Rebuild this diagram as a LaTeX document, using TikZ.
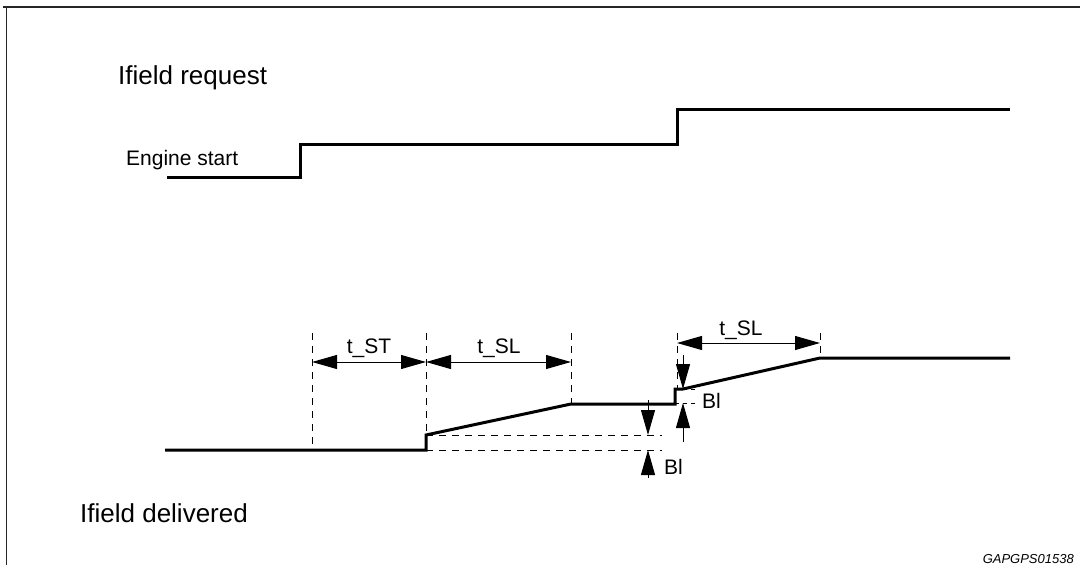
\documentclass[tikz,border=0pt]{standalone}
\usepackage{fontspec}
\setmainfont{Liberation Sans}
\usetikzlibrary{arrows.meta}
\tikzset{
  wave/.style={line width=3pt, line join=miter},
  guide/.style={line width=1pt, dash pattern=on 7pt off 6pt},
  dimarrow/.style={line width=1pt, {Triangle[length=25pt,width=14pt]}-{Triangle[length=25pt,width=14pt]}},
  pinarrow/.style={line width=1pt, -{Triangle[length=25pt,width=14pt]}},
  frameline/.style={draw=black!85},
  biglabel/.style={font=\fontsize{26}{30}\selectfont, inner sep=0pt},
  smalllabel/.style={font=\fontsize{21}{24}\selectfont, inner sep=0pt},
  reflabel/.style={font=\fontsize{13}{15}\selectfont\itshape, inner sep=0pt}
}
\begin{document}
\begin{tikzpicture}[x=1pt,y=-1pt]
\useasboundingbox (0,0) rectangle (1080,565);
\fill[white] (0,0) rectangle (1080,565);
% frame
\coordinate (ftl) at (6.5,7);
\coordinate (ftr) at (1080,7);
\coordinate (fbl) at (6.5,565);
\draw[frameline, line width=2.6pt] (3,7) -- (ftr);
\draw[frameline, line width=1.8pt] (ftl) -- (fbl);

% labels
\node[biglabel, anchor=base west] (req) at (118,84) {Ifield request};
\node[smalllabel, anchor=base west] (eng) at (126,165) {Engine start};
\node[biglabel, anchor=base west] (del) at (80,522) {Ifield delivered};
\node[reflabel, anchor=base east] (ref) at (1074,563) {GAPGPS01538};

% upper waveform
\coordinate (u0) at (167,177);
\coordinate (u1) at (300,177);
\coordinate (u2) at (300,144);
\coordinate (u3) at (677,144);
\coordinate (u4) at (677,109);
\coordinate (u5) at (1010,109);
\draw[wave] (u0) -- (u1) -- (u2) -- (u3) -- (u4) -- (u5);

% lower waveform
\coordinate (l0) at (165,450);
\coordinate (l1) at (426,450);
\coordinate (l2) at (426,435);
\coordinate (l3) at (571,404);
\coordinate (l4) at (675,404);
\coordinate (l5) at (675,389);
\coordinate (l6) at (683,389);
\coordinate (l7) at (820,358);
\coordinate (l8) at (1010,358);

% dashed guides
\coordinate (g1t) at (312,333);
\coordinate (g1b) at (312,450);
\coordinate (g2t) at (426,333);
\coordinate (g3t) at (571,333);
\coordinate (g4t) at (677,333);
\coordinate (g4b) at (677,389);
\coordinate (g5t) at (820,333);
\draw[guide] (g1t) -- (g1b);
\draw[guide] (g2t) -- (l2);
\draw[guide] (g3t) -- (l3);
\draw[guide] (g4t) -- (g4b);
\draw[guide] (g5t) -- (l7);
\coordinate (h1e) at (662,435);
\coordinate (h2e) at (662,450);
\draw[guide] (l2) -- (h1e);
\draw[guide] (l1) -- (h2e);
\coordinate (h3s) at (675,389);
\coordinate (h3e) at (698,389);
\coordinate (h4s) at (675,403);
\coordinate (h4e) at (698,403);
\draw[guide, dash pattern=on 4pt off 4pt] (h3s) -- (h3e);
\draw[guide, dash pattern=on 4pt off 4pt] (h4s) -- (h4e);

\draw[wave] (l0) -- (l1) -- (l2) -- (l3) -- (l4) -- (l5) -- (l6) -- (l7) -- (l8);

% dimension arrows
\coordinate (a1l) at (312,362);
\coordinate (a1r) at (426,362);
\coordinate (a2r) at (571,362);
\coordinate (a3l) at (677,343);
\coordinate (a3r) at (820,343);
\draw[dimarrow] (a1l) -- (a1r);
\draw[dimarrow] (a1r) -- (a2r);
\draw[dimarrow] (a3l) -- (a3r);
\node[smalllabel, anchor=base] (tst) at (369,353) {t\_ST};
\node[smalllabel, anchor=base] (tsl1) at (499,353) {t\_SL};
\node[smalllabel, anchor=base] (tsl2) at (741,335) {t\_SL};

% Bl arrows left
\coordinate (b1t) at (648,400);
\coordinate (b1a) at (648,435);
\coordinate (b1b) at (648,478);
\coordinate (b1c) at (648,450);
\draw[pinarrow] (b1t) -- (b1a);
\draw[pinarrow] (b1b) -- (b1c);
\node[smalllabel, anchor=base west] (bl1) at (664,474) {Bl};

% Bl arrows right
\coordinate (b2t) at (683,355);
\coordinate (b2a) at (683,389);
\coordinate (b2b) at (683,442);
\coordinate (b2c) at (683,403);
\draw[pinarrow] (b2t) -- (b2a);
\draw[pinarrow] (b2b) -- (b2c);
\node[smalllabel, anchor=base west] (bl2) at (702,408) {Bl};
\end{tikzpicture}
\end{document}
